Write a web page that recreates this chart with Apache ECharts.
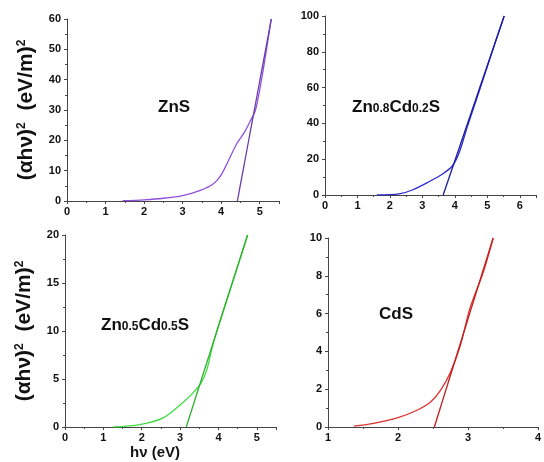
<!DOCTYPE html>
<html>
<head>
<meta charset="utf-8">
<script src="https://cdn.jsdelivr.net/npm/echarts@6/dist/echarts.min.js"></script>
<style>
  html, body { margin: 0; padding: 0; background: #fff; }
  #chart { width: 544px; height: 462px; }
</style>
</head>
<body>
<div id="chart"></div>
<script>
  // (x in eV, y in (eV/m)^2)
  const znsCurve = [[1.44, 0.1], [2.0, 0.4], [2.5, 0.9], [3.0, 1.8], [3.46, 3.5], [3.8, 5.7], [4.0, 8.6], [4.2, 13.6], [4.4, 18.8], [4.6, 22.6], [4.78, 27.0], [4.88, 29.6], [4.96, 34], [5.1, 44], [5.3, 60]]
  const znsTangent = [[4.42, 0], [5.3, 60]]

  const zn08Curve = [[1.6, 0], [2.28, 0.6], [2.69, 2.8], [3.2, 7.4], [3.61, 11.6], [3.92, 16.2], [4.13, 23.5], [4.39, 38.5], [4.65, 52.5], [4.96, 69.5], [5.26, 86], [5.52, 100]]
  const zn08Tangent = [[3.64, 0], [5.52, 100]]

  const zn05Curve = [[1.26, 0], [1.95, 0.25], [2.56, 0.95], [3.0, 2.3], [3.3, 3.4], [3.55, 4.6], [3.7, 6.0], [3.85, 8.5], [4.1, 11.8], [4.4, 15.5], [4.76, 20]]
  const zn05Tangent = [[3.16, 0], [4.76, 20]]

  const cdsCurve = [[1.37, 0.05], [1.63, 0.18], [2.0, 0.5], [2.28, 0.9], [2.47, 1.33], [2.61, 1.95], [2.75, 2.9], [2.89, 4.3], [3.03, 6.3], [3.22, 8.2], [3.36, 10]]
  const cdsTangent = [[2.52, 0], [3.36, 10]]

  // x tick labels for each panel
  const xTicks1 = [0, 1, 2, 3, 4, 5]
  const xTicks2 = [0, 1, 2, 3, 4, 5, 6]
  const xTicks3 = [0, 1, 2, 3, 4, 5]
  const xTicks4 = [1, 2, 3, 4]

  const yName = '(αhν){s|2}  (eV/m){s|2}'

  const grids = [
    { left: 67, top: 19, width: 212, height: 182 },
    { left: 325, top: 16, width: 211, height: 179 },
    { left: 65, top: 235, width: 211, height: 192 },
    { left: 328, top: 238, width: 215, height: 189 }
  ]

  const axisBase = {
    axisLine: { lineStyle: { color: '#444', width: 1 } },
    axisTick: { length: 3, lineStyle: { color: '#444' } },
    minorTick: { show: true, splitNumber: 2, length: 2, lineStyle: { color: '#444' } },
    splitLine: { show: false },
    axisLabel: { color: '#111', fontSize: 11, fontWeight: 'bold', fontFamily: 'Liberation Sans, Arial' }
  }

  function xAxis (i, min, max, ticks) {
    return Object.assign({}, axisBase, {
      type: 'value', gridIndex: i, min: min, max: max, interval: 1,
      axisLabel: Object.assign({}, axisBase.axisLabel, {
        margin: 5,
        customValues: ticks,
        showMinLabel: true,
        showMaxLabel: true,
        hideOverlap: false
      })
    })
  }

  function yAxis (i, max, interval, named) {
    const a = Object.assign({}, axisBase, {
      type: 'value', gridIndex: i, min: 0, max: max, interval: interval,
      axisLabel: Object.assign({}, axisBase.axisLabel, { margin: 6 })
    })
    if (named) {
      a.name = yName
      a.nameLocation = 'middle'
      a.nameGap = 30
      a.nameTextStyle = {
        fontSize: 21, fontWeight: 'bold', color: '#111', fontFamily: 'Liberation Sans, Arial',
        rich: { s: { fontSize: 12, fontWeight: 'bold', color: '#111', verticalAlign: 'top', padding: [0, 0, 9, 0] } }
      }
    }
    return a
  }

  function line (i, data, color) {
    return {
      type: 'line', xAxisIndex: i, yAxisIndex: i, data: data,
      symbol: 'none', smooth: 0.3, animation: false,
      lineStyle: { color: color, width: 1.3 }
    }
  }

  const labelStyle = { fontFamily: 'Liberation Sans, Arial', fontWeight: 'bold', fill: '#111' }
  function sample (x, y, text) {
    return {
      type: 'text', left: x, top: y,
      style: Object.assign({}, labelStyle, {
        text: text, fontSize: 17,
        rich: {
          b: { fontSize: 17, fontWeight: 'bold', fontFamily: 'Liberation Sans, Arial', fill: '#111' },
          n: { fontSize: 12, fontWeight: 'bold', fontFamily: 'Liberation Sans, Arial', fill: '#111', padding: [3, 0, 0, 0] }
        }
      })
    }
  }

  const chart = echarts.init(document.getElementById('chart'))
  chart.setOption({
    backgroundColor: '#fff',
    animation: false,
    grid: grids,
    xAxis: [xAxis(0, 0, 5.5, xTicks1), xAxis(1, 0, 6.5, xTicks2), xAxis(2, 0, 5.5, xTicks3), xAxis(3, 1, 4, xTicks4)],
    yAxis: [yAxis(0, 60, 10, true), yAxis(1, 100, 20, false), yAxis(2, 20, 5, true), yAxis(3, 10, 2, false)],
    series: [
      line(0, znsCurve, '#9050dc'), line(0, znsTangent, '#6a3aa8'),
      line(1, zn08Curve, '#2a2ad0'), line(1, zn08Tangent, '#1c1ca0'),
      line(2, zn05Curve, '#40dc40'), line(2, zn05Tangent, '#30b030'),
      line(3, cdsCurve, '#e03030'), line(3, cdsTangent, '#c02020')
    ],
    graphic: [
      sample(158, 99, '{b|ZnS}'),
      sample(352, 99, '{b|Zn}{n|0.8}{b|Cd}{n|0.2}{b|S}'),
      sample(101, 317, '{b|Zn}{n|0.5}{b|Cd}{n|0.5}{b|S}'),
      sample(379, 306, '{b|CdS}'),
      {
        type: 'text', left: 130, top: 445,
        style: Object.assign({}, labelStyle, { text: 'hν (eV)', fontSize: 15 })
      }
    ]
  })
  window.addEventListener('resize', () => { chart.resize() })
</script>
</body>
</html>
